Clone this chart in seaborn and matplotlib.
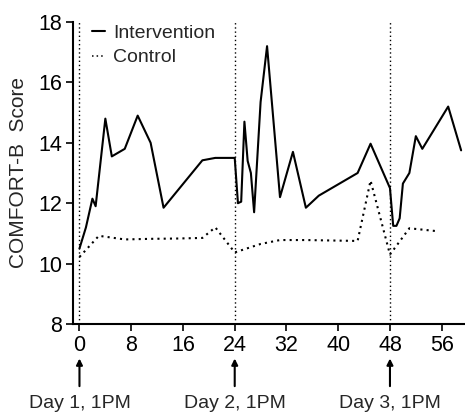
import matplotlib
matplotlib.use('Agg')
from matplotlib import pyplot as plt
import seaborn as sns
import pandas as pd

# hours since day 1, 1PM
intervention_hours = [0, 1, 2, 2.5, 4, 5, 7, 9, 11, 13, 19, 21, 24, 24.5, 25, 25.5, 26, 26.5, 27, 28,
                      29, 31, 33, 35, 37, 43, 45, 48, 48.5, 49, 49.5, 50, 51, 52, 53, 57, 59]
intervention_scores = [10.5, 11.2, 12.15, 11.9, 14.8, 13.55, 13.8, 14.9, 14.0, 11.85, 13.42, 13.5, 13.5,
                       12.0, 12.05, 14.7, 13.4, 13.0, 11.7, 15.35, 17.2, 12.2, 13.7, 11.85, 12.25, 13.0,
                       13.97, 12.5, 11.25, 11.25, 11.5, 12.65, 13.0, 14.22, 13.8, 15.2, 13.75]

control_hours = [0, 3, 7, 11, 15, 19, 21, 24, 28, 31, 35, 43, 45, 48, 51, 55]
control_scores = [10.22, 10.92, 10.8, 10.82, 10.83, 10.85, 11.2, 10.37, 10.65, 10.78, 10.78, 10.75,
                  12.75, 10.3, 11.17, 11.08]

day_marks = [0, 24, 48]
day_labels = ['Day 1, 1PM', 'Day 2, 1PM', 'Day 3, 1PM']
x_ticks = [0, 8, 16, 24, 32, 40, 48, 56]
y_ticks = [8, 10, 12, 14, 16, 18]

df = pd.concat([
    pd.DataFrame({'Hour': intervention_hours, 'Score': intervention_scores, 'Group': 'Intervention'}),
    pd.DataFrame({'Hour': control_hours, 'Score': control_scores, 'Group': 'Control'}),
])

sns.set_style('ticks')
plt.rcParams['font.family'] = ['Liberation Sans', 'DejaVu Sans']

fig = plt.figure(figsize=(4.65, 4.13), dpi=100)
ax = fig.add_axes([73 / 465, 1 - 324 / 413, 1 - 73 / 465, (324 - 22) / 413])

for x in day_marks:
    ax.axvline(x, color='black', ls=(0, (1, 2)), lw=1)

sns.lineplot(data=df, x='Hour', y='Score', style='Group', color='black',
             dashes={'Intervention': '', 'Control': (1, 2)},
             sort=False, estimator=None, ax=ax)
ax.lines[-1].set_linewidth(1.1)
ax.lines[-2].set_linewidth(1.5)

ax.set_xlim(-1, 59.6)
ax.set_ylim(8, 18)
ax.set_xticks(x_ticks)
ax.set_yticks(y_ticks)
ax.tick_params(labelsize=15.5, length=5, width=1.2, color='black', labelcolor='black', pad=3)
sns.despine(ax=ax)
for s in ['left', 'bottom']:
    ax.spines[s].set_linewidth(1.5)
    ax.spines[s].set_color('black')

ax.set_xlabel('')
ax.set_ylabel('COMFORT-B  Score', fontsize=15)
ax.yaxis.set_label_coords(-0.115, 0.5)

leg = ax.legend(handlelength=0.7, handletextpad=0.4, frameon=False, fontsize=14,
                loc='upper left', bbox_to_anchor=(0.003, 1.05), labelspacing=0.35)

for x, lab in zip(day_marks, day_labels):
    ax.annotate('', xy=(x, 6.95), xytext=(x, 5.85), annotation_clip=False,
                arrowprops=dict(arrowstyle='-|>', color='black', lw=1.5, mutation_scale=9))
    ax.text(x, 5.38, lab, ha='center', va='center', fontsize=14, clip_on=False)

plt.savefig('out.png', dpi=100)
plt.close()
